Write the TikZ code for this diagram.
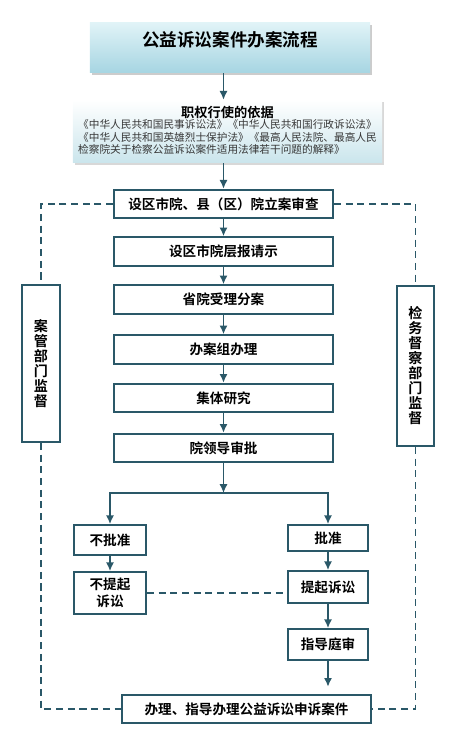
\documentclass[tikz,border=0pt]{standalone}
\usepackage{fontspec}
\setmainfont{Noto Sans CJK SC}[BoldFont={Noto Sans CJK SC Bold}]
\usetikzlibrary{arrows.meta,shadows}
\definecolor{boxline}{RGB}{42,88,104}
\definecolor{titletop}{RGB}{224,243,247}
\definecolor{titlebot}{RGB}{166,213,226}
\definecolor{basisbot}{RGB}{202,229,236}
\definecolor{smalltext}{RGB}{55,55,55}

\begin{document}
\begin{tikzpicture}[x=0.03cm, y=-0.03cm,
		stepbox/.style={draw=boxline, line width=1.5pt, fill=white, minimum width=6.57cm, minimum height=0.86cm, inner sep=0pt, font=\fontsize{11.6}{13}\selectfont\bfseries},
		smallbox/.style={draw=boxline, line width=1.5pt, fill=white, inner sep=0pt, align=center, font=\fontsize{11.6}{14.5}\selectfont\bfseries},
		sidebox/.style={draw=boxline, line width=1.5pt, minimum width=1.13cm, inner sep=0pt, align=center, font=\fontsize{12}{12.8}\selectfont\bfseries},
		flow/.style={draw=boxline, line width=1.6pt, ->, >={Latex[length=7.5pt,width=7pt]}},
		watch/.style={draw=boxline, line width=1.6pt, dash pattern=on 6pt off 4pt}]
	\useasboundingbox (0,0) rectangle (469,740);
	
	% head and legal basis
	\node[top color=titletop, bottom color=titlebot, drop shadow={shadow xshift=2pt, shadow yshift=-2pt, fill=black!40},
		minimum width=8.4cm, minimum height=1.5cm, text height=13pt, text depth=15.6pt,
		font=\fontsize{15}{18}\selectfont\bfseries] (title) at (230,48) {公益诉讼案件办案流程};
	\node[top color=white, bottom color=basisbot, drop shadow={shadow xshift=2pt, shadow yshift=-2pt, fill=black!30},
		minimum width=9.27cm, minimum height=1.89cm, inner sep=0pt, text=smalltext,
		font=\fontsize{9.1}{9.8}\selectfont] (basis) at (227.5,131.5)
		{\begin{tabular}{@{}l@{}}
			\multicolumn{1}{@{}c@{}}{\fontsize{11.3}{13}\selectfont\bfseries\color{black}职权行使的依据}\\[-1pt]
			《中华人民共和国民事诉讼法》《中华人民共和国行政诉讼法》\\
			《中华人民共和国英雄烈士保护法》《最高人民法院、最高人民\\
			检察院关于检察公益诉讼案件适用法律若干问题的解释》
		\end{tabular}};
	
	% main chain
	\foreach \nm/\y/\txt in {b1/204/设区市院、县（区）院立案审查, b2/251.5/设区市院层报请示,
		b3/299.5/省院受理分案, b4/349.5/办案组办理, b5/398/集体研究, b6/448/院领导审批}
	{
		\node[stepbox] (\nm) at (223.5,\y) {\txt};
	}
	\foreach \a/\b in {b1/b2, b2/b3, b3/b4, b4/b5, b5/b6}
		\draw[flow] (\a) -- (\b);
	\draw[flow] (title.south -| b1) -- (b1 |- basis.north);
	\draw[flow] (basis.south -| b1) -- (b1.north);
	
	% decision branches
	\node[smallbox, minimum width=2.16cm, minimum height=0.9cm] (nopass) at (110,540) {不批准};
	\node[smallbox, minimum width=2.4cm, minimum height=0.78cm] (pass) at (328,538) {批准};
	\node[smallbox, minimum width=2.16cm, minimum height=1.26cm] (nosue) at (110,593) {不提起\\诉讼};
	\node[smallbox, minimum width=2.4cm, minimum height=0.96cm] (sue) at (328,587) {提起诉讼};
	\node[smallbox, minimum width=2.4cm, minimum height=0.93cm] (trial) at (328,644.5) {指导庭审};
	\node[smallbox, minimum width=7.47cm, minimum height=0.84cm] (appeal) at (246.5,709) {办理、指导办理公益诉讼申诉案件};
	
	\coordinate (fork) at (223.5,493);
	\draw[flow] (b6) -- (fork);
	\draw[flow] (fork) -| (nopass);
	\draw[flow] (fork) -| (pass);
	\draw[flow] (nopass) -- (nosue);
	\draw[flow] (pass) -- (sue);
	\draw[flow] (sue) -- (trial);
	\draw[flow, shorten >=0.22cm] (trial) -- (trial |- appeal.north);
	\draw[watch] (nosue.east) -- (nosue.east -| sue.west);
	
	% supervision on both sides
	\node[sidebox, minimum height=4.71cm] (lwatch) at (41,363.5) {案\\管\\部\\门\\监\\督};
	\node[sidebox, minimum height=4.8cm] (rwatch) at (415.5,366) {检\\务\\督\\察\\部\\门\\监\\督};
	\draw[watch] (b1.west) -| (lwatch.north);
	\draw[watch] (b1.east) -| (rwatch.north);
	\draw[watch] (lwatch.south) |- (appeal.west);
	\draw[watch] (rwatch.south) |- (appeal.east);
\end{tikzpicture}
\end{document}
